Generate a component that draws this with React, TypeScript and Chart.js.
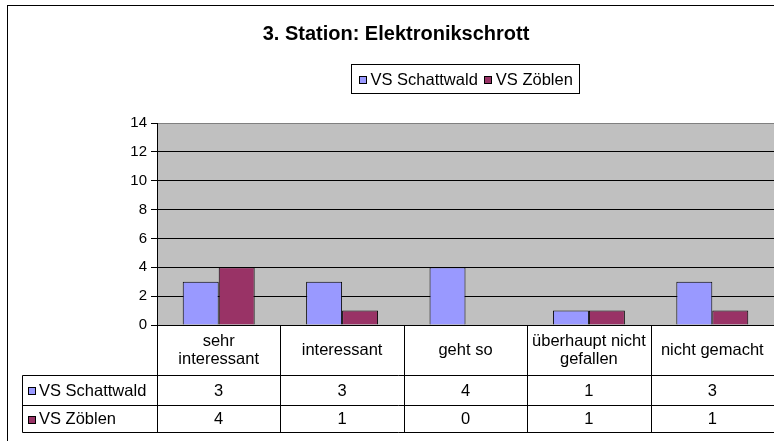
import React, { useEffect, useRef } from "react";
import { Chart, registerables } from "chart.js";

Chart.register(...registerables);

const TITLE = "3. Station: Elektronikschrott";
const categories: string[][] = [
  ["sehr", "interessant"],
  ["interessant"],
  ["geht so"],
  ["überhaupt nicht", "gefallen"],
  ["nicht gemacht"],
];
const seriesNames = ["VS Schattwald", "VS Zöblen"];
const schattwald = [3, 3, 4, 1, 3];
const zoeblen = [4, 1, 0, 1, 1];
const seriesColors = ["#9999FF", "#993366"];
const yTicks = [0, 2, 4, 6, 8, 10, 12, 14];

const FONT = "'Liberation Sans', Arial, sans-serif";
const TEXT_SIZE = 16.5;

const framePlugin = {
  id: "excelFrame",
  beforeDraw(chart: any) {
    const { ctx, chartArea } = chart;
    ctx.save();
    ctx.fillStyle = "#FFFFFF";
    ctx.fillRect(0, 0, chart.width, chart.height);
    ctx.fillStyle = "#C0C0C0";
    ctx.fillRect(chartArea.left, chartArea.top, chartArea.right - chartArea.left, chartArea.bottom - chartArea.top);
    ctx.restore();
  },
  afterDraw(chart: any) {
    const { ctx, chartArea } = chart;
    const xs = chart.scales.x;
    const datasets = chart.data.datasets;
    ctx.save();
    // outer border
    ctx.strokeStyle = "#000";
    ctx.lineWidth = 1;
    ctx.strokeRect(7.5, 5.5, 775, 470);

    // title
    ctx.fillStyle = "#000";
    ctx.font = `bold 20px ${FONT}`;
    ctx.textAlign = "center";
    ctx.textBaseline = "middle";
    ctx.fillText(TITLE, 396, 34);

    // legend
    ctx.font = `${TEXT_SIZE}px ${FONT}`;
    ctx.textAlign = "left";
    const gap = 4;
    const widths = datasets.map((d: any) => ctx.measureText(d.label).width);
    const itemW = widths.map((w: number) => 8 + gap + w);
    const totalW = itemW.reduce((a: number, b: number) => a + b, 0) + 6 * (datasets.length - 1);
    const legendCenter = 465;
    const boxL = Math.round(legendCenter - totalW / 2 - 7) + 0.5;
    const boxR = Math.round(legendCenter + totalW / 2 + 7) + 0.5;
    const boxT = 64.5, boxB = 93.5;
    ctx.strokeRect(boxL, boxT, boxR - boxL, boxB - boxT);
    let lx = boxL + 7;
    const ly = (boxT + boxB) / 2 + 1;
    datasets.forEach((d: any, i: number) => {
      ctx.fillStyle = d.backgroundColor;
      ctx.fillRect(Math.round(lx), Math.round(ly - 4), 8, 8);
      ctx.strokeStyle = "#000";
      ctx.strokeRect(Math.round(lx) + 0.5, Math.round(ly - 4) + 0.5, 7, 7);
      ctx.fillStyle = "#000";
      ctx.fillText(d.label, lx + 8 + gap, ly);
      lx += itemW[i] + 6;
    });

    // data table
    const n = chart.data.labels.length;
    const half = (xs.getPixelForValue(1) - xs.getPixelForValue(0)) / 2;
    const top = chartArea.bottom;
    const r1 = top + 50;
    const r2 = r1 + 30;
    const r3 = r2 + 27;
    const tableLeft = 22.5;
    const right = chartArea.right + 1;
    ctx.strokeStyle = "#000";
    ctx.beginPath();
    for (const y of [r1, r2, r3]) {
      ctx.moveTo(tableLeft, Math.round(y) + 0.5);
      ctx.lineTo(right, Math.round(y) + 0.5);
    }
    ctx.moveTo(tableLeft, Math.round(r1) + 0.5);
    ctx.lineTo(tableLeft, Math.round(r3) + 0.5);
    for (let i = 0; i <= n; i++) {
      const bx = Math.round(xs.getPixelForValue(i) - half) + 0.5;
      ctx.moveTo(bx, top);
      ctx.lineTo(bx, Math.round(r3) + 1);
    }
    ctx.stroke();

    ctx.fillStyle = "#000";
    ctx.font = `${TEXT_SIZE}px ${FONT}`;
    ctx.textAlign = "center";
    ctx.textBaseline = "middle";
    chart.data.labels.forEach((lab: string[], i: number) => {
      const cx = xs.getPixelForValue(i);
      const lh = 18;
      const cy = (top + r1) / 2;
      lab.forEach((line, k) => {
        ctx.fillText(line, cx, cy + (k - (lab.length - 1) / 2) * lh);
      });
    });
    const rows = [
      [r1, r2],
      [r2, r3],
    ];
    datasets.forEach((d: any, si: number) => {
      const cy = (rows[si][0] + rows[si][1]) / 2 + 1;
      ctx.fillStyle = d.backgroundColor;
      ctx.fillRect(28, Math.round(cy - 4), 8, 8);
      ctx.strokeStyle = "#000";
      ctx.strokeRect(28.5, Math.round(cy - 4) + 0.5, 7, 7);
      ctx.fillStyle = "#000";
      ctx.textAlign = "left";
      ctx.fillText(d.label, 39, cy);
      ctx.textAlign = "center";
      d.data.forEach((v: number, i: number) => {
        ctx.fillText(String(v), xs.getPixelForValue(i), cy);
      });
    });
    ctx.restore();
  },
};

export default function App() {
  const ref = useRef<HTMLCanvasElement>(null);
  useEffect(() => {
    document.body.style.margin = "0";
    const canvas = ref.current!;
    const chart = new Chart(canvas, {
      type: "bar",
      data: {
        labels: categories as any,
        datasets: [
          {
            label: seriesNames[0],
            data: schattwald,
            backgroundColor: seriesColors[0],
            borderColor: "#000",
            borderWidth: 1,
            categoryPercentage: 0.583,
            barPercentage: 1,
          },
          {
            label: seriesNames[1],
            data: zoeblen,
            backgroundColor: seriesColors[1],
            borderColor: "#000",
            borderWidth: 1,
            categoryPercentage: 0.583,
            barPercentage: 1,
          },
        ],
      },
      options: {
        responsive: false,
        animation: false,
        devicePixelRatio: 1,
        layout: { padding: { top: 123, left: 0, right: 16, bottom: 125 } },
        plugins: {
          legend: { display: false },
          title: { display: false },
          tooltip: { enabled: false },
        },
        scales: {
          x: { type: "category", display: false, offset: true, grid: { offset: true } },
          y: {
            min: yTicks[0],
            max: yTicks[yTicks.length - 1],
            afterBuildTicks: (s: any) => {
              s.ticks = yTicks.map((v) => ({ value: v }));
            },
            afterFit: (s: any) => {
              s.width = 157;
            },
            ticks: { color: "#000", font: { family: FONT, size: 15 }, padding: 4 },
            grid: {
              color: (c: any) => (c.tick && c.tick.value === 14 ? "#808080" : "#000"),
              tickColor: "#000",
              tickLength: 6,
              lineWidth: 1,
            },
            border: { color: "#000", width: 1 },
          },
        },
      },
      plugins: [framePlugin],
    });
    return () => chart.destroy();
  }, []);
  return (
    <div style={{ width: 774, height: 441, overflow: "hidden", position: "relative", background: "#fff" }}>
      <canvas ref={ref} width={790} height={450} style={{ width: 790, height: 450, display: "block" }} />
    </div>
  );
}
